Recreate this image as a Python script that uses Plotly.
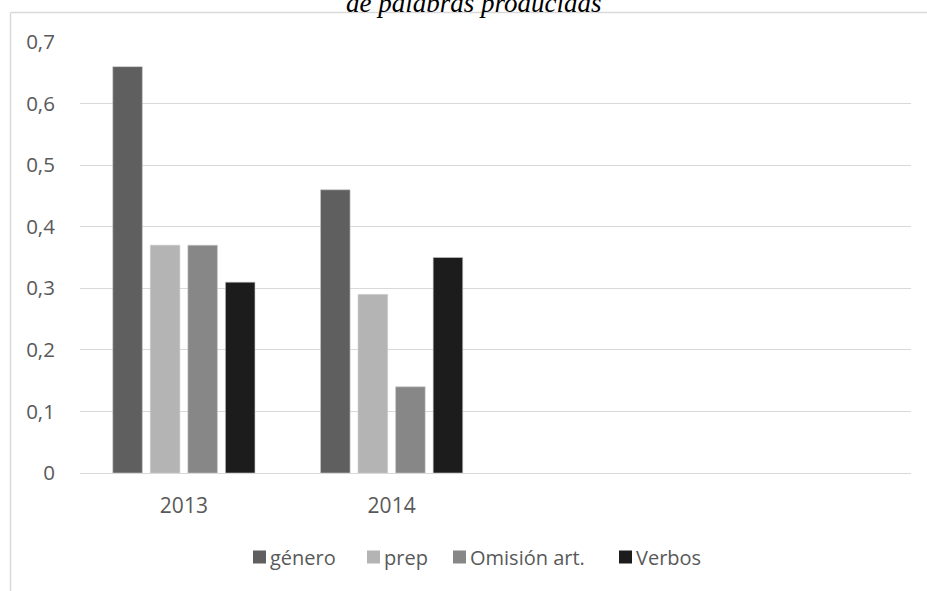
import plotly.graph_objects as go

# Error rates per category and year
categories = ["2013", "2014"]
series_names = ["género", "prep", "Omisión art.", "Verbos"]
genero = [0.66, 0.46]
prep = [0.37, 0.29]
omision = [0.37, 0.14]
verbos = [0.31, 0.35]
series_values = [genero, prep, omision, verbos]
series_colors = ["#5f5f5f", "#b4b4b4", "#878787", "#1c1c1c"]
y_ticks = [0, 0.1, 0.2, 0.3, 0.4, 0.5, 0.6, 0.7]

W, H = 927, 591
ML, MR, MT, MB = 80, 16, 42, 118
plot_w = W - ML - MR
plot_h = H - MT - MB

# left edge (px) of each legend swatch
legend_x = [253, 367, 453, 619]
legend_y = 557


def px_x(x):
    return (x - ML) / plot_w


def px_y(y):
    return (H - MB - y) / plot_h


fig = go.Figure()
for name, vals, col in zip(series_names, series_values, series_colors):
    fig.add_trace(go.Bar(
        x=categories, y=vals, name=name,
        marker=dict(color=col, line=dict(color="rgba(200,200,200,0.6)", width=1)),
    ))

font_fam = "Open Sans, Noto Sans, sans-serif"
text_col = "#595959"

shapes = [
    # chart frame: top and left edges (the rest runs off the page)
    dict(type="line", xref="paper", yref="paper",
         x0=px_x(10.5), x1=px_x(927), y0=px_y(12.5), y1=px_y(12.5),
         line=dict(color="#d9d9d9", width=1.5), layer="below"),
    dict(type="line", xref="paper", yref="paper",
         x0=px_x(10.5), x1=px_x(10.5), y0=px_y(12.5), y1=px_y(591),
         line=dict(color="#d9d9d9", width=1.5), layer="below"),
]
annotations = [dict(
    text="de palabras producidas", xref="paper", yref="paper",
    x=px_x(474), y=px_y(20.5), xanchor="center", yanchor="bottom",
    showarrow=False,
    font=dict(family="Liberation Serif, Times New Roman, serif", size=27,
              color="#000000", style="italic"),
)]

# legend: swatch + label per series
for lx, name, col in zip(legend_x, series_names, series_colors):
    shapes.append(dict(
        type="rect", xref="paper", yref="paper",
        x0=px_x(lx), x1=px_x(lx + 13),
        y0=px_y(legend_y + 6.5), y1=px_y(legend_y - 6.5),
        fillcolor=col, line=dict(width=0),
    ))
    annotations.append(dict(
        text=name, xref="paper", yref="paper",
        x=px_x(lx + 15), y=px_y(legend_y), xanchor="left", yanchor="middle",
        showarrow=False, font=dict(family=font_fam, size=20, color=text_col),
    ))

fig.update_layout(
    width=W, height=H,
    margin=dict(l=ML, r=MR, t=MT, b=MB),
    paper_bgcolor="white", plot_bgcolor="white",
    separators=",.",
    barmode="group", bargap=0.277, bargroupgap=0.213,
    font=dict(family=font_fam, size=20, color=text_col),
    showlegend=False,
    xaxis=dict(
        type="category", range=[-0.5, 3.5],
        showgrid=False, showline=True, linecolor="#d9d9d9", linewidth=1,
        ticks="outside", ticklen=14, tickcolor="rgba(0,0,0,0)",
        tickfont=dict(size=21, color=text_col), fixedrange=True,
    ),
    yaxis=dict(
        range=[0, 0.7], tickvals=y_ticks,
        showgrid=True, gridcolor="#d9d9d9", gridwidth=1,
        zeroline=False, showline=False,
        ticks="outside", ticklen=20, tickcolor="rgba(0,0,0,0)",
        tickfont=dict(size=20.5, color=text_col), fixedrange=True,
    ),
    shapes=shapes,
    annotations=annotations,
)

fig.write_html("out.html", config={"displayModeBar": False})
